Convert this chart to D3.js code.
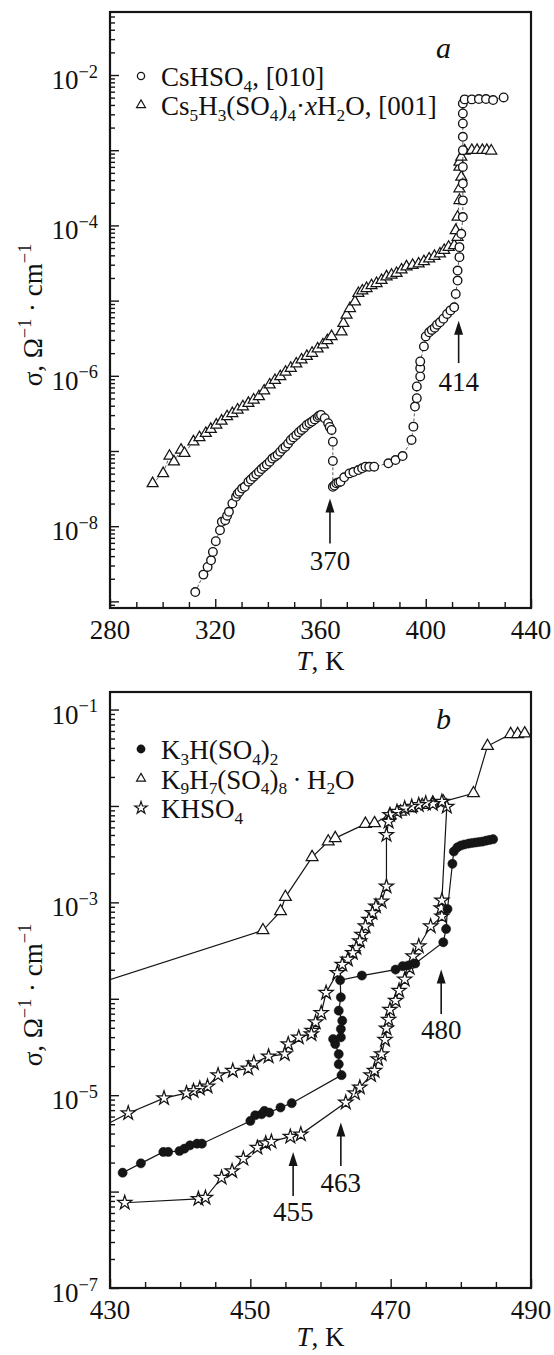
<!DOCTYPE html>
<html><head><meta charset="utf-8">
<script src="https://cdn.jsdelivr.net/npm/d3@7"></script>
<style>
body{margin:0;background:#fff}
svg{display:block}
text{font-family:"Liberation Serif","Times New Roman",serif;fill:#111}
</style>
</head><body>
<svg id="chart" width="554" height="1355"></svg>
<script>
// ---------------- DATA (T in K, values are log10 of sigma in Ohm^-1 cm^-1) ----------------
// Panel a: CsHSO4, [010] (open circles)
const csT = [312.4,315.5,317.1,318.4,319.1,320.2,321.8,322.5,323.8,324.5,325.2,326.5,327.9,328.5,329.2,330.2,331.2,332.6,333.5,334.6,335.6,336.6,337.6,338.6,339.6,340.7,341.7,342.7,343.7,344.7,345.7,346.7,347.7,348.7,349.7,350.8,351.8,352.8,353.8,354.8,355.8,356.8,357.8,358.9,359.5,360.2,361.6,362.9,363.5,364.2,364.7,364.7,364.7,365.3,366.0,366.8,367.6,369.0,371.0,372.5,374.4,375.8,377.1,378.5,380.4,385.8,388.5,391.2,394.6,395.3,395.9,396.6,396.6,397.9,397.9,397.9,399.3,400.0,401.3,402.3,403.4,404.3,405.4,406.7,408.1,409.4,410.8,411.4,412.1,412.1,412.8,412.8,413.5,414.1,414.1,414.1,414.1,414.1,414.1,414.1,414.1,414.1,414.8,417.5,420.2,422.9,425.6,429.6];
const csLogS = [-8.876,-8.644,-8.542,-8.453,-8.342,-8.200,-8.053,-7.942,-7.920,-7.860,-7.809,-7.698,-7.609,-7.570,-7.542,-7.500,-7.476,-7.409,-7.380,-7.342,-7.310,-7.276,-7.240,-7.209,-7.180,-7.142,-7.100,-7.076,-7.050,-7.009,-6.970,-6.942,-6.900,-6.853,-6.820,-6.787,-6.750,-6.720,-6.690,-6.653,-6.630,-6.609,-6.580,-6.551,-6.530,-6.520,-6.564,-6.631,-6.680,-6.720,-6.876,-7.133,-7.476,-7.460,-7.430,-7.420,-7.409,-7.350,-7.298,-7.280,-7.253,-7.230,-7.209,-7.210,-7.209,-7.164,-7.120,-7.067,-6.853,-6.676,-6.409,-6.298,-6.142,-6.009,-5.898,-5.809,-5.609,-5.476,-5.422,-5.390,-5.360,-5.320,-5.289,-5.240,-5.178,-5.130,-5.089,-4.911,-4.733,-4.600,-4.422,-4.289,-4.111,-3.889,-3.667,-3.444,-3.222,-3.000,-2.822,-2.644,-2.511,-2.378,-2.324,-2.324,-2.320,-2.320,-2.333,-2.298];
// Panel a: Cs5H3(SO4)4·xH2O, [001] (open triangles)
const cs5T = [296.2,300.2,302.6,304.3,307.0,308.3,311.7,314.0,316.4,318.3,320.4,322.4,324.5,326.5,328.5,330.5,332.6,334.6,336.6,338.6,340.7,342.7,344.7,346.7,348.7,350.8,352.8,354.8,356.8,358.9,360.9,362.6,364.2,368.0,368.7,369.9,371.2,373.1,374.4,375.9,377.5,379.4,381.3,383.2,385.1,387.0,388.9,390.8,392.7,395.0,397.3,399.3,401.3,403.3,405.4,407.0,408.7,410.8,412.1,411.4,412.1,412.8,412.8,413.5,412.8,412.8,413.5,414.8,417.5,419.5,421.5,423.2,424.9];
const cs5LogS = [-7.431,-7.298,-7.067,-7.142,-6.987,-7.031,-6.876,-6.820,-6.764,-6.710,-6.653,-6.600,-6.542,-6.500,-6.453,-6.410,-6.364,-6.320,-6.276,-6.200,-6.120,-6.060,-6.009,-5.950,-5.898,-5.840,-5.787,-5.740,-5.698,-5.640,-5.587,-5.530,-5.476,-5.413,-5.302,-5.191,-5.103,-5.015,-4.903,-4.870,-4.837,-4.800,-4.771,-4.730,-4.682,-4.660,-4.637,-4.590,-4.549,-4.530,-4.511,-4.480,-4.444,-4.410,-4.378,-4.330,-4.289,-4.267,-4.156,-4.067,-3.889,-3.667,-3.511,-3.356,-3.222,-3.156,-3.089,-3.009,-3.000,-3.000,-3.000,-3.000,-3.009];

// Panel b: K3H(SO4)2 (filled circles)
const k3T = [431.8,434.4,437.6,438.3,439.9,440.6,441.4,442.4,443.1,450.0,450.7,451.6,452.0,452.7,454.3,455.9,463.0,462.6,462.6,462.1,461.8,462.9,462.9,463.1,462.6,462.9,462.8,465.9,470.7,471.7,472.5,473.5,477.5,477.9,478.1,478.8,479.0,479.5,480.0,480.5,481.1,481.6,482.1,482.6,483.1,483.6,484.1,484.6];
const k3LogS = [-5.804,-5.707,-5.589,-5.589,-5.579,-5.555,-5.520,-5.503,-5.503,-5.267,-5.208,-5.198,-5.163,-5.180,-5.128,-5.083,-4.792,-4.678,-4.574,-4.470,-4.418,-4.400,-4.314,-4.227,-4.123,-3.984,-3.807,-3.759,-3.697,-3.662,-3.655,-3.634,-3.414,-3.276,-3.069,-2.600,-2.472,-2.430,-2.410,-2.400,-2.390,-2.384,-2.379,-2.374,-2.369,-2.360,-2.352,-2.345];
// Panel b: K9H7(SO4)8·H2O (open triangles)
const k9T = [425.0,451.8,454.3,455.0,458.8,461.1,462.1,466.4,467.7,469.9,471.4,473.0,474.5,476.0,477.5,481.8,483.8,487.1,488.1,489.1];
const k9LogS = [-3.92,-3.290,-3.093,-2.945,-2.531,-2.369,-2.334,-2.186,-2.179,-2.093,-2.059,-2.024,-1.990,-1.966,-1.955,-1.869,-1.379,-1.255,-1.255,-1.248];
// Panel b: KHSO4 (open stars), in measurement order (heating, then cooling)
const khT = [432.1,442.6,443.6,445.9,447.4,449.0,451.0,452.2,453.0,455.7,457.2,463.6,464.9,465.6,467.2,467.7,468.2,468.7,469.2,469.4,469.7,469.9,470.7,471.2,472.0,472.7,473.2,474.0,475.7,477.3,477.2,477.3,478.0,477.3,476.0,475.0,474.0,473.0,472.0,470.9,469.9,469.7,469.4,469.4,468.7,467.9,467.4,466.9,466.4,465.9,465.6,465.1,464.6,463.9,463.1,462.4,460.8,460.1,459.3,458.8,458.7,456.9,455.4,454.9,452.6,450.5,449.7,447.5,445.4,443.9,442.8,441.9,440.9,437.7,432.6,428.0];
const khLogS = [-6.116,-6.075,-6.064,-5.856,-5.787,-5.659,-5.544,-5.499,-5.482,-5.430,-5.406,-5.076,-4.979,-4.920,-4.792,-4.747,-4.626,-4.574,-4.425,-4.307,-4.217,-4.113,-4.019,-3.915,-3.800,-3.679,-3.559,-3.455,-3.248,-3.145,-3.059,-2.979,-2.007,-1.955,-1.979,-1.972,-1.990,-2.007,-2.024,-2.059,-2.093,-2.162,-2.300,-2.834,-2.990,-3.041,-3.110,-3.179,-3.248,-3.334,-3.403,-3.472,-3.524,-3.593,-3.645,-3.731,-3.938,-4.147,-4.244,-4.331,-4.366,-4.400,-4.470,-4.574,-4.598,-4.667,-4.723,-4.747,-4.792,-4.910,-4.931,-4.955,-4.979,-5.031,-5.187,-5.360];

// Tick labels
const aXTickLabels = [280,320,360,400,440];
const aYTickExp = [-2,-4,-6,-8];
const bXTickLabels = [430,450,470,490];
const bYTickExp = [-1,-3,-5,-7];

// Annotations: [label, T, log tip, log tail, log label baseline]
const aNotes = [["370",363.6,-7.631,-8.231,-8.58],["414",412.5,-5.267,-5.831,-6.20]];
const bNotes = [["455",456.1,-5.589,-6.047,-6.31],["463",462.9,-5.284,-5.735,-6.00],["480",477.2,-3.697,-4.158,-4.42]];

// ---------------- LAYOUT ----------------
const svg = d3.select("#chart");
const L = 110, R = 531;
const A = {top:12, bot:608}, B = {top:692, bot:1288};
const xa = d3.scaleLinear().domain([280,440]).range([L,R]);
const ya = d3.scaleLog().domain([Math.pow(10,-9.088), Math.pow(10,-1.162)]).range([A.bot,A.top]);
const xb = d3.scaleLinear().domain([430,490]).range([L,R]);
const yb = d3.scaleLog().domain([1e-7, Math.pow(10,-0.818)]).range([B.bot,B.top]);
const INK = "#151515";
const FS = 27;

function rich(g, x, y, segs, size, anchor){
  const t = g.append("text").attr("x",x).attr("y",y).attr("font-size",size)
    .attr("text-anchor",anchor||"start");
  let shift = 0;
  segs.forEach(s=>{
    const target = s.sub ? size*0.22 : (s.sup ? -size*0.42 : 0);
    const ts = t.append("tspan").text(s.t).attr("dy", target-shift);
    if (s.sub) ts.attr("font-size", size*0.64);
    if (s.sup) ts.attr("font-size", size*0.68);
    if (s.it) ts.attr("font-style","italic");
    shift = target;
  });
  return t;
}

function minorLogTicks(scale){
  const [d0,d1] = scale.domain();
  const out = [];
  for (let e = Math.floor(Math.log10(d0)); e <= Math.ceil(Math.log10(d1)); e++){
    for (let m = 2; m <= 9; m++){ const v = m*Math.pow(10,e); if (v>=d0 && v<=d1) out.push(v); }
  }
  return out;
}
function majorLogTicks(scale){
  const [d0,d1] = scale.domain();
  const out = [];
  for (let e = Math.floor(Math.log10(d0)); e <= Math.ceil(Math.log10(d1)); e++){
    const v = Math.pow(10,e); if (v>=d0*0.999 && v<=d1) out.push(v);
  }
  return out;
}

function panel(opt){
  const g = svg.append("g");
  const {x,y,top,bot,id} = opt;
  const xMajor = opt.xLabels;
  const xMinor = d3.range(x.domain()[0], x.domain()[1]+0.001, opt.xMinorStep).filter(v=>!xMajor.includes(v));
  const axB = g.append("g").attr("transform",`translate(0,${bot})`);
  axB.append("g").call(d3.axisBottom(x).tickValues(xMinor).tickSize(-6).tickFormat(""));
  axB.append("g").call(d3.axisBottom(x).tickValues(xMajor).tickSize(-9).tickFormat(""));
  const axL = g.append("g").attr("transform",`translate(${L},0)`);
  axL.append("g").call(d3.axisLeft(y).tickValues(minorLogTicks(y)).tickSize(-5).tickFormat(""));
  axL.append("g").call(d3.axisLeft(y).tickValues(majorLogTicks(y)).tickSize(-9).tickFormat(""));
  g.selectAll(".domain").remove();
  g.selectAll(".tick line").attr("stroke",INK).attr("stroke-width",1.4);
  g.append("rect").attr("x",L).attr("y",top).attr("width",R-L).attr("height",bot-top)
    .attr("fill","none").attr("stroke",INK).attr("stroke-width",2.2);
  xMajor.forEach(v=>{
    g.append("text").attr("x",x(v)).attr("y",bot+31).attr("text-anchor","middle")
      .attr("font-size",FS).text(v);
  });
  opt.yExp.forEach(e=>{
    rich(g, 98, y(Math.pow(10,e))+14, [{t:"10"},{t:"\u2212"+Math.abs(e),sup:true}], FS, "end");
  });
  rich(g, (L+R)/2, bot+opt.xTitleDy, [{t:"T",it:true},{t:", K"}], FS, "middle");
  const yt = g.append("g").attr("transform",`translate(42,${opt.yTitleY}) rotate(-90)`);
  rich(yt, 0, 0, [{t:"\u03c3, \u03a9"},{t:"\u22121",sup:true},{t:" \u00b7 cm"},{t:"\u22121",sup:true}], FS, "middle");
  g.append("text").attr("x",436).attr("y",opt.letterY).attr("font-size",30)
    .attr("font-style","italic").text(opt.letter);
  svg.append("clipPath").attr("id",id).append("rect")
    .attr("x",L).attr("y",top).attr("width",R-L).attr("height",bot-top);
  return g;
}

const ga = panel({x:xa,y:ya,top:A.top,bot:A.bot,id:"clipA",xLabels:aXTickLabels,xMinorStep:10,yExp:aYTickExp,yTitleY:315,letter:"a",letterY:58,xTitleDy:62});
const gb = panel({x:xb,y:yb,top:B.top,bot:B.bot,id:"clipB",xLabels:bXTickLabels,xMinorStep:5,yExp:bYTickExp,yTitleY:995,letter:"b",letterY:729,xTitleDy:58});

function pts(T, LS){ return T.map((t,i)=>({T:t, s:Math.pow(10,LS[i])})); }
const csData = pts(csT, csLogS), cs5Data = pts(cs5T, cs5LogS);
const k3Data = pts(k3T, k3LogS), k9Data = pts(k9T, k9LogS), khData = pts(khT, khLogS);

const triA = d3.symbol().type(d3.symbolTriangle).size(52);
const triB = d3.symbol().type(d3.symbolTriangle).size(60);
const star = d3.symbol().type(d3.symbolStar).size(62);

function series(g, data, x, y, clip, lineStyle, marker){
  const gg = g.append("g").attr("clip-path",`url(#${clip})`);
  const line = d3.line().x(d=>x(d.T)).y(d=>y(d.s));
  gg.append("path").datum(data).attr("d",line).attr("fill","none")
    .attr("stroke",INK).attr("stroke-width",lineStyle.w).attr("stroke-dasharray",lineStyle.dash||null);
  const m = gg.selectAll(null).data(data).enter();
  marker(m, d=>x(d.T), d=>y(d.s));
}
function openCircle(r){ return (m,fx,fy)=>m.append("circle").attr("cx",fx).attr("cy",fy).attr("r",r)
  .attr("fill","#fff").attr("stroke",INK).attr("stroke-width",1.35); }
function filledCircle(r){ return (m,fx,fy)=>m.append("circle").attr("cx",fx).attr("cy",fy).attr("r",r)
  .attr("fill",INK).attr("stroke",INK).attr("stroke-width",0.5); }
function symbolM(sym){ return (m,fx,fy)=>m.append("path").attr("d",sym)
  .attr("transform",d=>`translate(${fx(d)},${fy(d)})`)
  .attr("fill","#fff").attr("stroke",INK).attr("stroke-width",1.25); }

series(ga, cs5Data, xa, ya, "clipA", {w:0.7,dash:"3,2"}, symbolM(triA));
series(ga, csData, xa, ya, "clipA", {w:0.7,dash:"3,2"}, openCircle(4.3));

series(gb, k9Data, xb, yb, "clipB", {w:1.2}, symbolM(triB));
series(gb, khData, xb, yb, "clipB", {w:1.2}, symbolM(star));
series(gb, k3Data, xb, yb, "clipB", {w:1.2}, filledCircle(4.6));

function arrows(g, notes, x, y){
  notes.forEach(([lab,T,tip,tail,lb])=>{
    const px = x(T), yt = y(Math.pow(10,tip)), yl = y(Math.pow(10,tail));
    g.append("line").attr("x1",px).attr("x2",px).attr("y1",yl).attr("y2",yt+10)
      .attr("stroke",INK).attr("stroke-width",1.6);
    g.append("path").attr("d",`M${px},${yt} L${px-4.5},${yt+14} L${px+4.5},${yt+14} Z`).attr("fill",INK);
    g.append("text").attr("x",px).attr("y",y(Math.pow(10,lb))).attr("text-anchor","middle")
      .attr("font-size",FS).text(lab);
  });
}
arrows(ga, aNotes, xa, ya);
arrows(gb, bNotes, xb, yb);

const legA = [
  {mk:"circle", segs:[{t:"CsHSO"},{t:"4",sub:true},{t:", [010]"}]},
  {mk:"tri", segs:[{t:"Cs"},{t:"5",sub:true},{t:"H"},{t:"3",sub:true},{t:"(SO"},{t:"4",sub:true},{t:")"},{t:"4",sub:true},{t:"\u00b7"},{t:"x",it:true},{t:"H"},{t:"2",sub:true},{t:"O, [001]"}]}
];
const legB = [
  {mk:"dot", segs:[{t:"K"},{t:"3",sub:true},{t:"H(SO"},{t:"4",sub:true},{t:")"},{t:"2",sub:true}]},
  {mk:"tri", segs:[{t:"K"},{t:"9",sub:true},{t:"H"},{t:"7",sub:true},{t:"(SO"},{t:"4",sub:true},{t:")"},{t:"8",sub:true},{t:"\u2009\u00b7\u2009H"},{t:"2",sub:true},{t:"O"}]},
  {mk:"star", segs:[{t:"KHSO"},{t:"4",sub:true}]}
];
function legend(g, items, y0, dy){
  items.forEach((it,i)=>{
    const cy = y0 + i*dy;
    if (it.mk==="circle") g.append("circle").attr("cx",141).attr("cy",cy).attr("r",3.6).attr("fill","#fff").attr("stroke",INK).attr("stroke-width",1.3);
    if (it.mk==="dot") g.append("circle").attr("cx",141).attr("cy",cy).attr("r",4.4).attr("fill",INK);
    if (it.mk==="tri") g.append("path").attr("d",d3.symbol().type(d3.symbolTriangle).size(34)).attr("transform",`translate(141,${cy})`).attr("fill","#fff").attr("stroke",INK).attr("stroke-width",1.2);
    if (it.mk==="star") g.append("path").attr("d",d3.symbol().type(d3.symbolStar).size(48)).attr("transform",`translate(141,${cy})`).attr("fill","#fff").attr("stroke",INK).attr("stroke-width",1.2);
    rich(g, 161, cy+10, it.segs, FS, "start");
  });
}
legend(ga, legA, 76, 29);
legend(gb, legB, 749, 29.5);
</script>
</body></html>
